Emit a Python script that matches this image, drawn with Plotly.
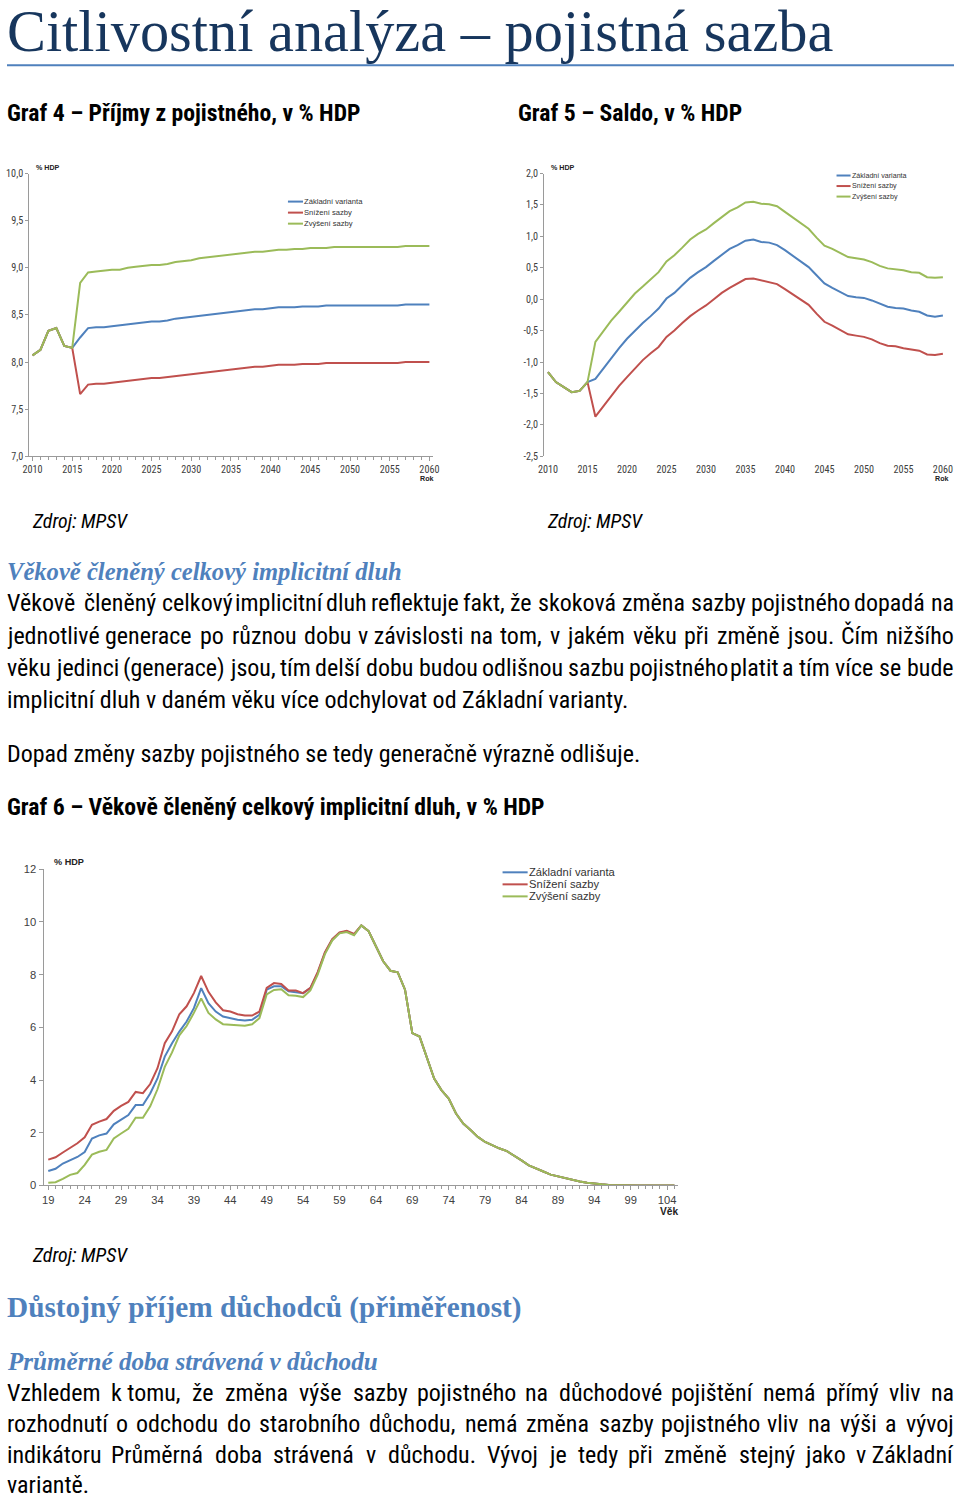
import unicodedata
import plotly.graph_objects as go

W_PX, H_PX = 960, 1499
# observed: the page is shown with an 8px frame and fitted back into 960x1499;
# these factors map reference-page pixels onto figure pixels
KX = (W_PX + 16) / W_PX
KY = (H_PX + 16) / H_PX
FONT_K = KX


def fx(X):
    return min(max(X * KX - 8, 0), W_PX)


def fy(Y):
    return min(max(Y * KY - 8, 0), H_PX)


def px(X):
    return fx(X) / W_PX


def py(Y):
    return 1 - fy(Y) / H_PX


def fs(s):
    return s * FONT_K


# ---------------- data ----------------
series_names = ["Základní varianta", "Snížení sazby", "Zvýšení sazby"]
series_colors = ["#4F81BD", "#C0504D", "#9BBB59"]

# Graf 4 – Příjmy z pojistného, v % HDP
years = list(range(2010, 2061))
g4_base = [8.07, 8.13, 8.33, 8.36, 8.17, 8.15,
           8.26, 8.36, 8.37, 8.37, 8.38, 8.39, 8.40, 8.41, 8.42, 8.43,
           8.43, 8.44, 8.46, 8.47, 8.48, 8.49, 8.50, 8.51, 8.52, 8.53,
           8.54, 8.55, 8.56, 8.56, 8.57, 8.58, 8.58, 8.58, 8.59, 8.59,
           8.59, 8.60, 8.60, 8.60, 8.60, 8.60, 8.60, 8.60, 8.60, 8.60,
           8.60, 8.61, 8.61, 8.61, 8.61]
g4_low = [8.07, 8.13, 8.33, 8.36, 8.17, 8.15,
          7.66, 7.76, 7.77, 7.77, 7.78, 7.79, 7.80, 7.81, 7.82, 7.83,
          7.83, 7.84, 7.85, 7.86, 7.87, 7.88, 7.89, 7.90, 7.91, 7.92,
          7.93, 7.94, 7.95, 7.95, 7.96, 7.97, 7.97, 7.97, 7.98, 7.98,
          7.98, 7.99, 7.99, 7.99, 7.99, 7.99, 7.99, 7.99, 7.99, 7.99,
          7.99, 8.00, 8.00, 8.00, 8.00]
g4_high = [8.07, 8.13, 8.33, 8.36, 8.17, 8.15,
           8.84, 8.95, 8.96, 8.97, 8.98, 8.98, 9.00, 9.01, 9.02, 9.03,
           9.03, 9.04, 9.06, 9.07, 9.08, 9.10, 9.11, 9.12, 9.13, 9.14,
           9.15, 9.16, 9.17, 9.17, 9.18, 9.19, 9.19, 9.20, 9.20, 9.21,
           9.21, 9.21, 9.22, 9.22, 9.22, 9.22, 9.22, 9.22, 9.22, 9.22,
           9.22, 9.23, 9.23, 9.23, 9.23]
g4_yticks = [7.0, 7.5, 8.0, 8.5, 9.0, 9.5, 10.0]
g4_yticktext = ["7,0", "7,5", "8,0", "8,5", "9,0", "9,5", "10,0"]

# Graf 5 – Saldo, v % HDP
g5_base = [-1.16, -1.32, -1.40, -1.48, -1.46, -1.32,
           -1.27, -1.10, -0.93, -0.78, -0.63, -0.50, -0.38, -0.27, -0.15, 0.01,
           0.10, 0.22, 0.34, 0.43, 0.51, 0.61, 0.71, 0.80, 0.86, 0.93,
           0.95, 0.91, 0.90, 0.86, 0.78, 0.69, 0.60, 0.51, 0.38, 0.25,
           0.18, 0.11, 0.05, 0.03, 0.02, -0.02, -0.07, -0.12, -0.14, -0.15,
           -0.18, -0.20, -0.26, -0.28, -0.26]
g5_low = [-1.16, -1.32, -1.40, -1.48, -1.46, -1.32,
          -1.87, -1.70, -1.53, -1.38, -1.24, -1.10, -0.97, -0.86, -0.76, -0.60,
          -0.50, -0.38, -0.27, -0.18, -0.10, 0.00, 0.10, 0.18, 0.25, 0.32,
          0.33, 0.30, 0.28, 0.24, 0.16, 0.08, 0.00, -0.09, -0.23, -0.36,
          -0.42, -0.49, -0.56, -0.58, -0.60, -0.64, -0.70, -0.74, -0.75, -0.78,
          -0.80, -0.82, -0.88, -0.89, -0.87]
g5_high = [-1.16, -1.32, -1.40, -1.48, -1.46, -1.32,
           -0.68, -0.50, -0.34, -0.20, -0.06, 0.09, 0.20, 0.31, 0.43, 0.60,
           0.70, 0.82, 0.95, 1.04, 1.11, 1.21, 1.31, 1.40, 1.46, 1.54,
           1.55, 1.52, 1.51, 1.48, 1.39, 1.30, 1.21, 1.12, 0.98, 0.85,
           0.80, 0.73, 0.67, 0.65, 0.63, 0.59, 0.53, 0.49, 0.48, 0.46,
           0.43, 0.42, 0.35, 0.34, 0.35]
g5_yticks = [-2.5, -2.0, -1.5, -1.0, -0.5, 0.0, 0.5, 1.0, 1.5, 2.0]
g5_yticktext = ["-2,5", "-2,0", "-1,5", "-1,0", "-0,5", "0,0", "0,5", "1,0", "1,5", "2,0"]

# Graf 6 – Věkově členěný celkový implicitní dluh, v % HDP
ages = list(range(19, 106))
g6_base_young = [0.55, 0.63, 0.83, 0.95, 1.08, 1.27, 1.78, 1.90, 1.97, 2.32, 2.48,
                 2.67, 3.05, 3.05, 3.49, 4.06, 4.89, 5.40, 5.84, 6.22, 6.73,
                 7.49, 6.92, 6.60, 6.41, 6.35, 6.29, 6.26, 6.29, 6.48, 7.43,
                 7.56, 7.56, 7.37, 7.34, 7.30, 7.49, 8.06, 8.83, 9.33, 9.59,
                 9.65, 9.52]
g6_low_young = [0.98, 1.07, 1.25, 1.43, 1.60, 1.83, 2.30, 2.42, 2.52, 2.83, 3.02,
                3.17, 3.55, 3.50, 3.85, 4.45, 5.40, 5.85, 6.50, 6.80, 7.30,
                7.95, 7.35, 6.95, 6.65, 6.60, 6.50, 6.45, 6.45, 6.60, 7.50,
                7.68, 7.65, 7.40, 7.40, 7.30, 7.50, 8.10, 8.85, 9.35, 9.60,
                9.67, 9.55]
g6_high_young = [0.10, 0.12, 0.25, 0.40, 0.47, 0.78, 1.17, 1.28, 1.35, 1.78, 1.97,
                 2.15, 2.57, 2.57, 3.00, 3.65, 4.50, 5.05, 5.70, 6.05, 6.55,
                 7.10, 6.55, 6.30, 6.12, 6.10, 6.07, 6.06, 6.12, 6.35, 7.25,
                 7.42, 7.45, 7.22, 7.20, 7.15, 7.40, 8.00, 8.78, 9.30, 9.57,
                 9.62, 9.50]
# ages 62..105 are identical in all three variants
g6_common_old = [9.87, 9.65, 9.08, 8.51, 8.15, 8.09, 7.43, 5.78, 5.65, 4.89,
                 4.06, 3.62, 3.30, 2.73, 2.35, 2.10, 1.84, 1.65, 1.52, 1.40,
                 1.30, 1.14, 0.95, 0.76, 0.63, 0.53, 0.41, 0.34, 0.28, 0.22,
                 0.15, 0.10, 0.06, 0.04, 0.02, 0.01, 0.0, 0.0, 0.0, 0.0,
                 0.0, 0.0, 0.0, 0.0]
g6_base = g6_base_young + g6_common_old
g6_low = g6_low_young + g6_common_old
g6_high = g6_high_young + g6_common_old
g6_yticks = [0, 2, 4, 6, 8, 10, 12]

# ---------------- page text ----------------
title_text = "Citlivostní analýza – pojistná sazba"
graf4_title = "Graf 4 – Příjmy z pojistného, v % HDP"
graf5_title = "Graf 5 – Saldo, v % HDP"
graf6_title = "Graf 6 – Věkově členěný celkový implicitní dluh, v % HDP"
source_text = "Zdroj: MPSV"
heading1 = "Věkově členěný celkový implicitní dluh"
para1 = [
    "Věkově členěný celkový implicitní dluh reflektuje fakt, že skoková změna sazby pojistného dopadá na",
    "jednotlivé generace po různou dobu v\u00a0závislosti na tom, v jakém věku při změně jsou. Čím nižšího",
    "věku jedinci (generace) jsou, tím delší dobu budou odlišnou sazbu pojistného platit a tím více se bude",
    "implicitní dluh v daném věku více odchylovat od Základní varianty.",
]
para1b = "Dopad změny sazby pojistného se tedy generačně výrazně odlišuje."
heading2 = "Důstojný příjem důchodců (přiměřenost)"
heading3 = "Průměrné doba strávená v důchodu"
para2 = [
    "Vzhledem k\u00a0tomu, že změna výše sazby pojistného na důchodové pojištění nemá přímý vliv na",
    "rozhodnutí o odchodu do starobního důchodu, nemá změna sazby pojistného vliv na výši a vývoj",
    "indikátoru Průměrná doba strávená v důchodu. Vývoj je tedy při změně stejný jako v\u00a0Základní",
    "variantě.",
]

SANS_N = "Liberation Sans Narrow, Arial Narrow, Roboto Condensed, sans-serif"
SANS = "Liberation Sans, Arial, sans-serif"
SERIF = "Liberation Serif, Times New Roman, serif"
AX_GRAY = "#9a9a9a"
TICK_GRAY = "#404040"
BODY_SIZE = 23.6

# ---------------- figure ----------------
fig = go.Figure()

datasets = [
    (years, [g4_base, g4_low, g4_high], "x", "y"),
    (years, [g5_base, g5_low, g5_high], "x2", "y2"),
    (ages, [g6_base, g6_low, g6_high], "x3", "y3"),
]
for xs, ser, xa, ya in datasets:
    for name, col, vals in zip(series_names, series_colors, ser):
        fig.add_trace(go.Scatter(x=xs, y=vals, mode="lines", name=name,
                                 line=dict(color=col, width=2),
                                 xaxis=xa, yaxis=ya, showlegend=False,
                                 hoverinfo="skip"))

# geometry (pixels of the reference page)
c1 = dict(x0=30, x1=433, ytop=175, ybot=457)
c2 = dict(x0=543.3, x1=945, ytop=175, ybot=457)
c3 = dict(x0=44.3, x1=676.7, ytop=869, ybot=1184.3)

common_ax = dict(showgrid=False, zeroline=False, linecolor=AX_GRAY, linewidth=1,
                 tickcolor=AX_GRAY, ticks="outside")

fig.update_layout(
    width=W_PX, height=H_PX, autosize=False,
    margin=dict(l=0, r=0, t=0, b=0, pad=0),
    paper_bgcolor="white", plot_bgcolor="white",
    showlegend=False,
    xaxis=dict(domain=[px(c1["x0"]), px(c1["x1"])], anchor="y",
               range=[2009.58, 2060.5], showline=True, tickmode="linear",
               tick0=2010, dtick=5, ticklen=4,
               minor=dict(dtick=1, tick0=2010, ticklen=3, ticks="outside", tickcolor=AX_GRAY),
               tickfont=dict(family=SANS_N, size=fs(10), color=TICK_GRAY), **common_ax),
    yaxis=dict(domain=[py(c1["ybot"]), py(c1["ytop"])], anchor="x",
               range=[7, 10], showline=True, tickmode="array",
               tickvals=g4_yticks, ticktext=g4_yticktext, ticklen=3,
               tickfont=dict(family=SANS_N, size=fs(10), color=TICK_GRAY), **common_ax),
    xaxis2=dict(domain=[px(c2["x0"]), px(c2["x1"])], anchor="y2",
                range=[2009.49, 2060.5], showline=False, tickmode="linear",
                tick0=2010, dtick=5, ticklen=4,
                showgrid=False, zeroline=False, ticks="outside", tickcolor="rgba(0,0,0,0)",
                tickfont=dict(family=SANS_N, size=fs(10), color=TICK_GRAY)),
    yaxis2=dict(domain=[py(c2["ybot"]), py(c2["ytop"])], anchor="x2",
                range=[-2.5, 2.0], showline=True, tickmode="array",
                tickvals=g5_yticks, ticktext=g5_yticktext, ticklen=3,
                tickfont=dict(family=SANS_N, size=fs(10), color=TICK_GRAY), **common_ax),
    xaxis4=dict(overlaying="x2", anchor="free",
                position=py(c2["ybot"]) + (0 - (-2.5)) / 4.5 * (py(c2["ytop"]) - py(c2["ybot"])),
                range=[2009.49, 2060.5], showline=True, showticklabels=False,
                tickmode="linear", tick0=2010, dtick=1, ticklen=3, **common_ax),
    xaxis3=dict(domain=[px(c3["x0"]), px(c3["x1"])], anchor="y3",
                range=[18.35, 105.46], showline=True, tickmode="linear",
                tick0=19, dtick=5, ticklen=4,
                minor=dict(dtick=1, tick0=19, ticklen=3, ticks="outside", tickcolor=AX_GRAY),
                tickfont=dict(family=SANS, size=fs(11), color=TICK_GRAY), **common_ax),
    yaxis3=dict(domain=[py(c3["ybot"]), py(c3["ytop"])], anchor="x3",
                range=[0, 12], showline=True, tickmode="array",
                tickvals=g6_yticks, ticklen=4,
                tickfont=dict(family=SANS, size=fs(11), color=TICK_GRAY), **common_ax),
)

annotations = []
shapes = []


def add_text_fig(xf, yf, text, size, family=SANS_N, color="black", bold=False,
                 italic=False, xanchor="left"):
    t = text
    if bold:
        t = "<b>" + t + "</b>"
    if italic:
        t = "<i>" + t + "</i>"
    annotations.append(dict(x=xf / W_PX, y=1 - yf / H_PX, xref="paper", yref="paper",
                            text=t, showarrow=False, xanchor=xanchor,
                            yanchor="middle", borderpad=0, borderwidth=0,
                            font=dict(family=family, size=fs(size), color=color)))


def add_text(X, Y, text, size, **kw):
    add_text_fig(fx(X), fy(Y), text, size, **kw)


# approximate Arial advance widths (per 1000 em), calibrated to the rendered narrow face
AW = {
    'a': 556, 'b': 556, 'c': 500, 'd': 556, 'e': 556, 'f': 278, 'g': 556, 'h': 556,
    'i': 222, 'j': 222, 'k': 500, 'l': 222, 'm': 833, 'n': 556, 'o': 556, 'p': 556,
    'q': 556, 'r': 333, 's': 500, 't': 278, 'u': 556, 'v': 500, 'w': 722, 'x': 500,
    'y': 500, 'z': 500, 'A': 667, 'B': 667, 'C': 722, 'D': 722, 'E': 667, 'F': 611,
    'G': 778, 'H': 722, 'I': 278, 'J': 500, 'K': 667, 'L': 556, 'M': 833, 'N': 722,
    'O': 778, 'P': 667, 'Q': 778, 'R': 722, 'S': 667, 'T': 611, 'U': 722, 'V': 667,
    'W': 944, 'X': 667, 'Y': 667, 'Z': 611, ' ': 278, '\u00a0': 278, ',': 278,
    '.': 278, '(': 333, ')': 333, '-': 333, ':': 278, 'í': 278,
}
WIDTH_FACTOR = 0.896


def est_width(s, size):
    tot = 0
    for ch in s:
        if ch in AW:
            tot += AW[ch]
        else:
            base = unicodedata.normalize("NFD", ch)[0]
            tot += AW.get(base, 556)
    return tot / 1000 * fs(size) * WIDTH_FACTOR


def justified_line(line, Y, size, X_left=5, X_right=955):
    words = line.split(" ")
    widths = [est_width(w, size) for w in words]
    xl, xr = fx(X_left), fx(X_right)
    yf = fy(Y)
    gap = (xr - xl - sum(widths)) / (len(words) - 1)
    x = xl
    n = len(words)
    for i, (w, wd) in enumerate(zip(words, widths)):
        txt = w.replace("\u00a0", " ")
        if i == 0:
            add_text_fig(xl, yf, txt, size, xanchor="left")
        elif i == n - 1:
            add_text_fig(xr, yf, txt, size, xanchor="right")
        else:
            add_text_fig(x + wd / 2, yf, txt, size, xanchor="center")
        x += wd + gap


# page header (kept low enough that the accents are not cut by the top edge)
add_text_fig(0, 26, title_text, 57.4, family=SERIF, color="#17365D")
shapes.append(dict(type="line", xref="paper", yref="paper", x0=px(0), x1=px(960),
                   y0=py(67), y1=py(67), line=dict(color="#4F81BD", width=2)))

add_text(5, 115, graf4_title, 23.3, bold=True)
add_text(517, 115, graf5_title, 23.3, bold=True)

# chart furniture
add_text(37, 169, "% HDP", 7, family=SANS, color="#222", bold=True)
add_text(433, 480, "Rok", 7, family=SANS, color="#222", bold=True, xanchor="right")
add_text(550, 169, "% HDP", 7, family=SANS, color="#222", bold=True)
add_text(946, 480, "Rok", 7, family=SANS, color="#222", bold=True, xanchor="right")
add_text(55, 862, "% HDP", 9, family=SANS, color="#222", bold=True)
add_text(677, 1210, "Věk", 10, family=SANS, color="#222", bold=True, xanchor="right")

# legends (key swatches + names)
legend_specs = [
    dict(x0=288, x1=303, y0=203, dy=11, size=7.5),
    dict(x0=835, x1=849, y0=177, dy=10.5, size=7),
    dict(x0=502, x1=527, y0=872, dy=12, size=11),
]
for spec in legend_specs:
    for i, (name, col) in enumerate(zip(series_names, series_colors)):
        yy = spec["y0"] + i * spec["dy"]
        shapes.append(dict(type="line", xref="paper", yref="paper",
                           x0=px(spec["x0"]), x1=px(spec["x1"]), y0=py(yy), y1=py(yy),
                           line=dict(color=col, width=2)))
        add_text(spec["x1"] + 1, yy, name, spec["size"], family=SANS, color="#333")

add_text(33, 522, source_text, 19.5, italic=True)
add_text(546, 522, source_text, 19.5, italic=True)

add_text(5, 572, heading1, 24.2, family=SERIF, color="#4F81BD", bold=True, italic=True)
p1_y = [603, 636, 668, 700]
for i, (line, yy) in enumerate(zip(para1, p1_y)):
    if i < len(para1) - 1:
        justified_line(line, yy, BODY_SIZE)
    else:
        add_text(5, yy, line.replace("\u00a0", " "), BODY_SIZE)
add_text(5, 754, para1b, BODY_SIZE)
add_text(5, 807, graf6_title, 23.3, bold=True)

add_text(33, 1254, source_text, 19.5, italic=True)
add_text(5, 1306, heading2, 28.8, family=SERIF, color="#4F81BD", bold=True)
add_text(5, 1360, heading3, 24.7, family=SERIF, color="#4F81BD", bold=True, italic=True)
# the last line sits slightly higher than in the reference so that it stays inside the page
p2_y = [1391, 1422, 1453, 1483]
for i, (line, yy) in enumerate(zip(para2, p2_y)):
    if i < len(para2) - 1:
        justified_line(line, yy, BODY_SIZE)
    else:
        add_text(5, yy, line.replace("\u00a0", " "), BODY_SIZE)

fig.update_layout(annotations=annotations, shapes=shapes)

fig.write_html(
    "out.html", config={"displayModeBar": False},
    post_script=("document.documentElement.style.margin='0';"
                 "document.body.style.margin='0';document.body.style.padding='0';"
                 "document.body.style.overflow='hidden';"
                 "var d=document.getElementById('{plot_id}');"
                 "d.style.position='absolute';d.style.left='0px';d.style.top='0px';"))
